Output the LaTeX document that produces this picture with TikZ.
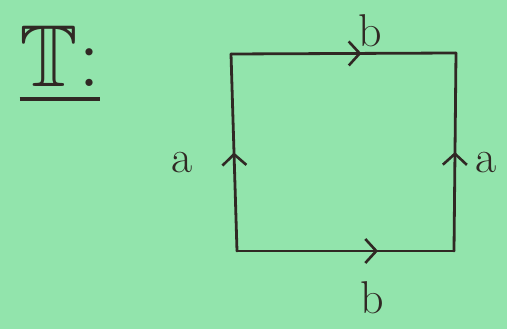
\documentclass[tikz,border=0pt]{standalone}
\usepackage{amssymb}
\usepackage{amsmath}
\usepackage{tikz}
\usetikzlibrary{arrows.meta}
\usetikzlibrary{decorations.markings}
\usetikzlibrary{positioning}

\definecolor{paper}{RGB}{146,228,172}
\definecolor{ink}{RGB}{48,40,36}

\tikzset{
    edgeline/.style = {draw=ink, line width=2.8pt, line cap=round},
    midarrow/.style = {postaction={decorate, decoration={markings,
        mark=at position #1 with {\arrow{Straight Barb[length=11pt,width=24pt,line width=2.6pt]}}}}},
    handlabel/.style = {text=ink, font=\fontsize{46}{46}\selectfont, inner sep=0pt}
}

\begin{document}
\begin{tikzpicture}[x=1pt, y=1pt]
    \fill[paper] (0,0) rectangle (507,329);
    \useasboundingbox (0,0) rectangle (507,329);
    % corners of the square
    \coordinate (tl) at (231,275);
    \coordinate (tr) at (456,276);
    \coordinate (br) at (454,78);
    \coordinate (bl) at (237,78);
    % sides
    \draw[edgeline, midarrow=0.58] (tl) -- (tr);
    \draw[edgeline, midarrow=0.65] (bl) -- (br);
    \draw[edgeline, midarrow=0.50] (bl) -- (tl);
    \draw[edgeline, midarrow=0.50] (br) -- (tr);
    % labels
    \node[handlabel] (btop) at (370,298) {b};
    \node[handlabel] (bbot) at (372,31) {b};
    \node[handlabel] (aleft) at (182,166) {a};
    \node[handlabel] (aright) at (486,166) {a};
    \node[text=ink, font=\fontsize{88}{88}\selectfont, inner sep=0pt] (title) at (60,264) {\underline{$\mathbb{T}$:}};
\end{tikzpicture}
\end{document}
